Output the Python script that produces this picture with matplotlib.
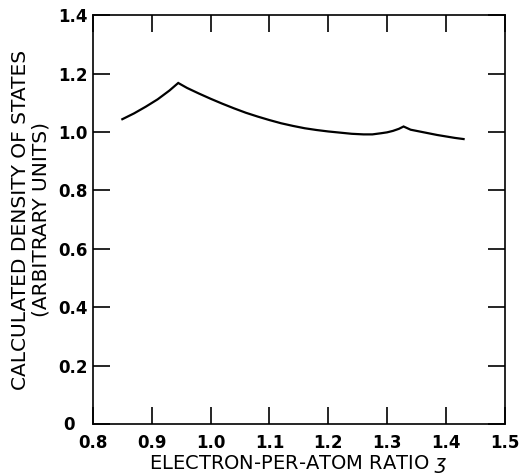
import matplotlib
matplotlib.use("Agg")
import matplotlib.pyplot as plt
from matplotlib.transforms import ScaledTranslation

# Data
ratio = [0.850, 0.870, 0.890, 0.910, 0.930, 0.945, 0.960, 0.980, 1.000, 1.020,
         1.040, 1.060, 1.080, 1.100, 1.120, 1.140, 1.160, 1.180, 1.200, 1.220,
         1.240, 1.260, 1.275, 1.290, 1.300, 1.310, 1.320, 1.328, 1.340, 1.355,
         1.370, 1.385, 1.400, 1.415, 1.430]
density = [1.044, 1.064, 1.087, 1.112, 1.142, 1.168, 1.151, 1.132, 1.114, 1.097,
           1.081, 1.066, 1.053, 1.041, 1.030, 1.021, 1.013, 1.007, 1.002, 0.998,
           0.994, 0.992, 0.992, 0.996, 0.999, 1.004, 1.011, 1.019, 1.008, 1.002,
           0.996, 0.990, 0.985, 0.980, 0.976]

xticks = [0.8, 0.9, 1.0, 1.1, 1.2, 1.3, 1.4, 1.5]
xticklabels = ["0.8", "0.9", "1.0", "1.1", "1.2", "1.3", "1.4", "1.5"]
yticks = [0, 0.2, 0.4, 0.6, 0.8, 1.0, 1.2, 1.4]
yticklabels = ["0", "0.2", "0.4", "0.6", "0.8", "1.0", "1.2", "1.4"]

plt.rcParams["font.family"] = ["DejaVu Sans"]
plt.rcParams["mathtext.fontset"] = "dejavusans"

fig = plt.figure(figsize=(5.22, 4.75), dpi=100)
ax = fig.add_axes([0.178, 0.107, 0.789, 0.861])

ax.plot(ratio, density, color="black", lw=1.6, solid_joinstyle="miter")

ax.set_xlim(0.8, 1.5)
ax.set_ylim(0, 1.4)
ax.set_xticks(xticks)
ax.set_xticklabels(xticklabels, fontweight="bold")
ax.set_yticks(yticks)
ax.set_yticklabels(yticklabels, fontweight="bold")

ax.tick_params(direction="in", length=12, width=1.2, top=True, right=True,
               labelsize=12, pad=4, color="black")
ax.tick_params(axis="x", pad=7)
for s in ax.spines.values():
    s.set_linewidth(1.2)

# origin "0" label sits further left, as in the reference
lab0 = ax.get_yticklabels()[0]
lab0.set_transform(lab0.get_transform() + ScaledTranslation(-13/100, 1/100, fig.dpi_scale_trans))

ax.set_xlabel(r"ELECTRON-PER-ATOM RATIO $\mathit{ʒ}$", fontsize=14, labelpad=1)
ax.set_ylabel("CALCULATED DENSITY OF STATES\n(ARBITRARY UNITS)", fontsize=14.5,
              labelpad=5, linespacing=1.1)

fig.savefig("out.png", dpi=100)
